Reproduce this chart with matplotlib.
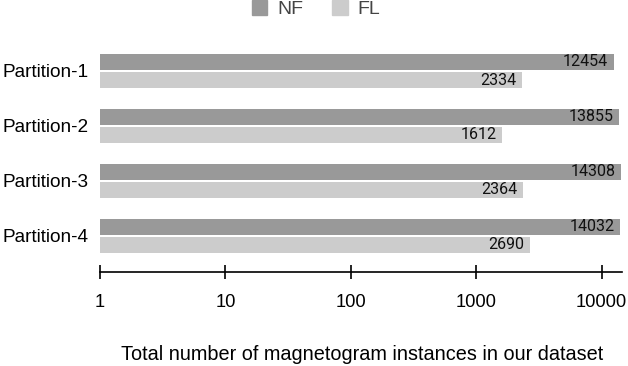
import matplotlib
matplotlib.use("Agg")
import matplotlib.pyplot as plt
import numpy as np
from matplotlib.patches import Patch

categories = ["Partition-1", "Partition-2", "Partition-3", "Partition-4"]
nf_values = [12454, 13855, 14308, 14032]
fl_values = [2334, 1612, 2364, 2690]
series_names = ["NF", "FL"]
tick_values = [1, 10, 100, 1000, 10000]
tick_labels = ["1", "10", "100", "1000", "10000"]
xlabel = "Total number of magnetogram instances in our dataset"

NF_COLOR = "#999999"
FL_COLOR = "#cccccc"

plt.rcParams['font.family'] = ['Liberation Sans', 'DejaVu Sans']

fig = plt.figure(figsize=(6.28, 3.66), dpi=100)
ax = fig.add_axes([100/628, 1-271.7/366, (621.7-100)/628, (271.7-45)/366])

y = np.arange(len(categories))
h = 0.29
off = 0.164
ax.barh(y - off, nf_values, height=h, color=NF_COLOR, left=0, label="NF")
ax.barh(y + off, fl_values, height=h, color=FL_COLOR, left=0, label="FL")

ax.set_xscale('log')
ax.set_xlim(1, 14440)
ax.set_ylim(3.656, -0.4736)

for yi, v in zip(y, nf_values):
    ax.text(v / 1.11, yi - off, str(v), ha='right', va='center', fontsize=11.5,
            family=['Roboto', 'DejaVu Sans'], color='#111111')
for yi, v in zip(y, fl_values):
    ax.text(v / 1.11, yi + off, str(v), ha='right', va='center', fontsize=11.5,
            family=['Roboto', 'DejaVu Sans'], color='#111111')

ax.set_yticks(y)
ax.set_yticklabels(categories, fontsize=13.7)
ax.tick_params(axis='y', length=0, pad=8.5)

ax.set_xticks(tick_values)
ax.set_xticklabels(tick_labels, fontsize=13.2)
ax.xaxis.set_minor_locator(matplotlib.ticker.NullLocator())
ax.tick_params(axis='x', direction='inout', length=9.5, width=1.2, pad=11, colors='black')

for s in ['top', 'right', 'left']:
    ax.spines[s].set_visible(False)
ax.spines['bottom'].set_linewidth(1.2)

fig.text(362.5 / 628, 1 - 355/366, xlabel, ha='center', va='center', fontsize=14.3)

handles = [Patch(color=NF_COLOR), Patch(color=FL_COLOR)]
fig.legend(handles, series_names, loc='center', bbox_to_anchor=(316/628, 1 - 9/366),
           ncol=2, frameon=False, fontsize=14, handlelength=0.8, handleheight=0.8,
           handletextpad=0.5, columnspacing=1.5, labelcolor='#444444')

fig.savefig("out.png", dpi=100)
